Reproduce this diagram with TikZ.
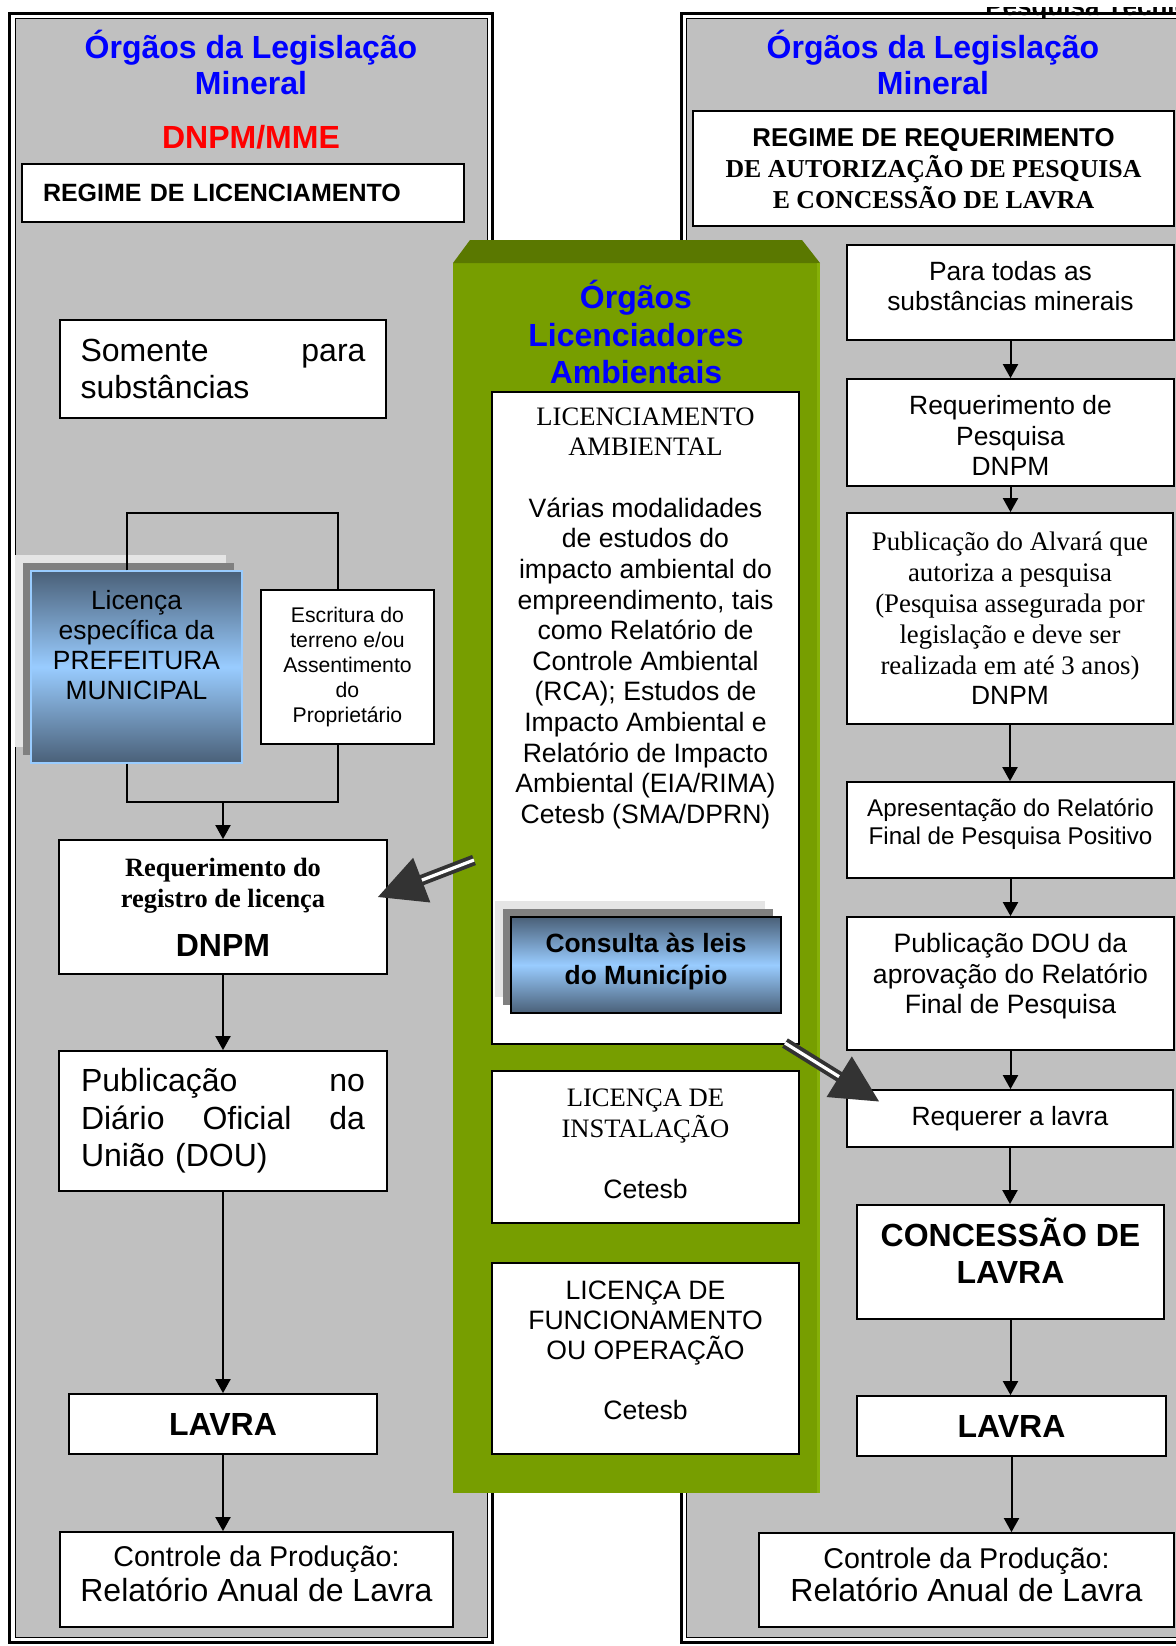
\documentclass[tikz,border=0pt]{standalone}
\usepackage{fontspec}
\setmainfont{Liberation Sans}
\newfontfamily\timesfont{Liberation Serif}
\usetikzlibrary{positioning,arrows.meta,calc,shadows}

\definecolor{panelgray}{HTML}{C0C0C0}
\definecolor{greenface}{HTML}{779E00}
\definecolor{greentop}{HTML}{5A7800}
\definecolor{greenedge}{HTML}{86B008}
\definecolor{slate}{HTML}{4A6078}
\definecolor{skyblue}{HTML}{99CCFF}
\definecolor{arrowgray}{HTML}{333333}

\newcommand{\fsize}[2]{\fontsize{#1}{#2}\selectfont}

\begin{document}
\begin{tikzpicture}[
  x=0.5pt, y=-0.5pt,
  font=\fsize{13.3}{15.3},
  box/.style={draw, line width=0.9pt, fill=white, align=center, inner sep=2pt},
  wh/.style 2 args={minimum width=#1*0.5pt, minimum height=#2*0.5pt},
  txt/.style={align=center, inner sep=0pt},
  title/.style={font=\fsize{16}{18}\bfseries, text=blue, align=center},
  gradbox/.style={top color=slate, bottom color=slate, middle color=skyblue},
  twoshadows/.style={
    general shadow={fill=black!10, draw=none, shadow xshift=-8pt, shadow yshift=8pt},
    general shadow={fill=black!50, draw=none, shadow xshift=-4pt, shadow yshift=4pt}},
  arr/.style={-{Triangle[length=7pt,width=7.5pt]}, line width=1pt},
  link/.style={line width=1pt},
  bigarr/.style={draw=arrowgray, line width=1.9pt, double=white, double distance=1.6pt,
    -{Triangle[length=23.5pt,width=23.5pt]}}
]
\useasboundingbox (0,0) rectangle (1176,1646);

% header fragment cut by the page edge
\begin{scope}
  \clip (900,7) rectangle (1176,30);
  \node[font=\fsize{13}{15}\bfseries, anchor=base west, inner sep=0pt] (header) at (985,15) {Pesquisa Técnica};
\end{scope}

% panels
\fill[panelgray] (15,18) rectangle (487,1637);
\draw[line width=1.5pt] (9.5,13.5) rectangle (492,1642);
\draw[line width=0.5pt] (15,18) rectangle (487,1637);
\fill[panelgray] (686,18) rectangle (1190,1637);
\draw[line width=1.5pt] (681,13.5) rectangle (1195,1642);
\draw[line width=0.5pt] (686,18) rectangle (1190,1637);

% green column
\fill[greenface] (453,263) rectangle (820,1493);
\fill[greentop] (453,263) -- (470,240) -- (802,240) -- (820,263) -- cycle;
\fill[greenedge] (817,263) rectangle (820,1493);

% left column
\node[title] (titleL) at (251,62) {Órgãos da Legislação\\Mineral};
\node[title, text=red] (dnpmL) at (251,137) {DNPM/MME};
\node[box, wh={442}{58}, font=\fsize{12.5}{14}\bfseries, align=left, text width=200pt, inner xsep=10.5pt] (regimeL) at (243,193) {REGIME DE LICENCIAMENTO};
\node[box, wh={326}{98}, font=\fsize{16}{18.4}, align=left, text width=142.5pt] (somente) at (223,369) {Somente\hfill para\\substâncias};
\node[gradbox, twoshadows, draw=skyblue, line width=0.6pt, wh={211}{192}] (prefeitura) at (136.5,667) {};
\node[txt, font=\fsize{13.2}{15}] (prefeitura-text) at ([yshift=11pt]prefeitura.center) {Licença\\específica da\\PREFEITURA\\MUNICIPAL};
\node[box, wh={173}{154}, font=\fsize{10.6}{12.5}] (escritura) at (347.5,667) {Escritura do\\terreno e/ou\\Assentimento\\do\\Proprietário};
\node[box, wh={328}{134}, font=\fsize{13.2}{15.5}] (reqreg) at (223,907)
  {\timesfont\bfseries Requerimento do\\\timesfont\bfseries registro de licença\\[9pt]\fsize{16}{18}\bfseries DNPM};
\node[box, wh={328}{140}, font=\fsize{16}{18.75}, align=left, text width=142pt] (publ) at (223,1121) {Publicação\hfill no\\Diário\hfill Oficial\hfill da\\União (DOU)};
\node[box, wh={308}{60}, font=\fsize{16}{18}\bfseries] (lavraL) at (223,1424) {LAVRA};
\node[box, wh={393}{95}] (controleL) at (256.5,1579.5) {};
\node[txt, font=\fsize{14.3}{17.3}] (controleL-text) at ([yshift=3pt]controleL.center) {Controle da Produção:\\\fsize{16}{18}Relatório Anual de Lavra};

% left connectors
\coordinate (loopL) at (127,513);
\coordinate (loopR) at (338,513);
\coordinate (joinL) at (127,802);
\coordinate (joinR) at (338,802);
\coordinate (joinM) at (223,802);
\draw[link] (prefeitura.north -| loopL) -- (loopL) -- (loopR) -- (escritura.north -| loopR);
\draw[link] (prefeitura.south -| joinL) -- (joinL) -- (joinR) -- (escritura.south -| joinR);
\draw[arr] (joinM) -- (reqreg.north);
\draw[arr] (reqreg) -- (publ);
\draw[arr] (publ) -- (lavraL);
\draw[arr] (lavraL.south) -- (lavraL.south |- controleL.north);

% green column boxes
\node[title, font=\fsize{16}{18.75}\bfseries] (titleG) at (636,332) {Órgãos\\Licenciadores\\Ambientais};
\node[box, wh={307}{652}] (licamb) at (645.5,718) {};
\node[txt, anchor=north] (licamb-text) at ([yshift=-8pt]licamb.north)
  {\timesfont LICENCIAMENTO\\\timesfont AMBIENTAL\\[15.5pt]Várias modalidades\\de estudos do\\impacto ambiental do\\empreendimento, tais\\como Relatório de\\Controle Ambiental\\(RCA); Estudos de\\Impacto Ambiental e\\Relatório de Impacto\\Ambiental (EIA/RIMA)\\Cetesb (SMA/DPRN)};
\node[gradbox, twoshadows, draw, line width=1pt, wh={270}{96}] (consulta) at (646,965) {};
\node[txt, font=\fsize{13.2}{16}\bfseries] (consulta-text) at ([yshift=1.5pt]consulta.center) {Consulta às leis\\do Município};
\node[box, wh={307}{152}] (licinst) at (645.5,1147) {};
\node[txt] (licinst-text) at ([yshift=1.5pt]licinst.center) {\timesfont LICENÇA DE\\\timesfont INSTALAÇÃO\\[15.3pt]Cetesb};
\node[box, wh={307}{191}] (licfunc) at (645.5,1358.5) {};
\node[txt, font=\fsize{13.3}{15}] (licfunc-text) at ([yshift=4pt]licfunc.center) {LICENÇA DE\\FUNCIONAMENTO\\OU OPERAÇÃO\\[15pt]Cetesb};

% right column
\node[title] (titleR) at (933,62) {Órgãos da Legislação\\Mineral};
\node[box, wh={481}{115}, font=\fsize{12.9}{15.5}] (regimeR) at (933.5,168.5)
  {\bfseries REGIME DE REQUERIMENTO\\\timesfont\bfseries DE AUTORIZAÇÃO DE PESQUISA\\\timesfont\bfseries E CONCESSÃO DE LAVRA};
\node[box, wh={327}{95}] (todas) at (1010.5,292.5) {};
\node[txt, font=\fsize{13.2}{15}] (todas-text) at ([yshift=3pt]todas.center) {Para todas as\\substâncias minerais};
\node[box, wh={327}{107}] (reqpesq) at (1010.5,432.5) {};
\node[txt, font=\fsize{13.2}{15.25}] (reqpesq-text) at ([yshift=-1.5pt]reqpesq.center) {Requerimento de\\Pesquisa\\DNPM};
\node[box, wh={326}{211}, font=\fsize{13.4}{15.4}] (alvara) at (1010,618.5)
  {\timesfont Publicação do Alvará que\\\timesfont autoriza a pesquisa\\\timesfont (Pesquisa assegurada por\\\timesfont legislação e deve ser\\\timesfont realizada em até 3 anos)\\\fsize{13.2}{15}DNPM};
\node[box, wh={327}{96}] (apres) at (1010.5,830) {};
\node[txt, font=\fsize{12.1}{14}] (apres-text) at ([yshift=3pt]apres.center) {Apresentação do Relatório\\Final de Pesquisa Positivo};
\node[box, wh={327}{133}] (pubdou) at (1010.5,983.5) {};
\node[txt, font=\fsize{13.3}{15.25}] (pubdou-text) at ([yshift=3.5pt]pubdou.center) {Publicação DOU da\\aprovação do Relatório\\Final de Pesquisa};
\node[box, wh={326}{57}, font=\fsize{13.2}{15}] (requerer) at (1010,1118.5) {Requerer a lavra};
\node[box, wh={307}{114}] (concessao) at (1010.5,1262) {};
\node[txt, font=\fsize{16}{18.5}\bfseries] (concessao-text) at ([yshift=5.75pt]concessao.center) {CONCESSÃO DE\\LAVRA};
\node[box, wh={309}{60}, font=\fsize{16}{18}\bfseries] (lavraR) at (1011.5,1426) {LAVRA};
\node[box, wh={415}{94}] (controleR) at (966.5,1580) {};
\node[txt, font=\fsize{14.3}{16.5}] (controleR-text) at ([yshift=2.5pt]controleR.center) {Controle da Produção:\\\fsize{16}{18}Relatório Anual de Lavra};

% right arrows
\foreach \a/\b in {todas/reqpesq, reqpesq/alvara, alvara/apres, apres/pubdou,
    pubdou/requerer, requerer/concessao, concessao/lavraR, lavraR/controleR}
  \draw[arr] (\a.south) -- (\a.south |- \b.north);

% environmental licensing feeds both regimes
\coordinate (fromlicA) at (474,860);
\coordinate (fromlicB) at (785,1043);
\draw[bigarr] (fromlicA) -- ([shift={(-10,-10)}]reqreg.east);
\draw[bigarr] (fromlicB) -- ([shift={(33,-17)}]requerer.west);

\end{tikzpicture}
\end{document}
